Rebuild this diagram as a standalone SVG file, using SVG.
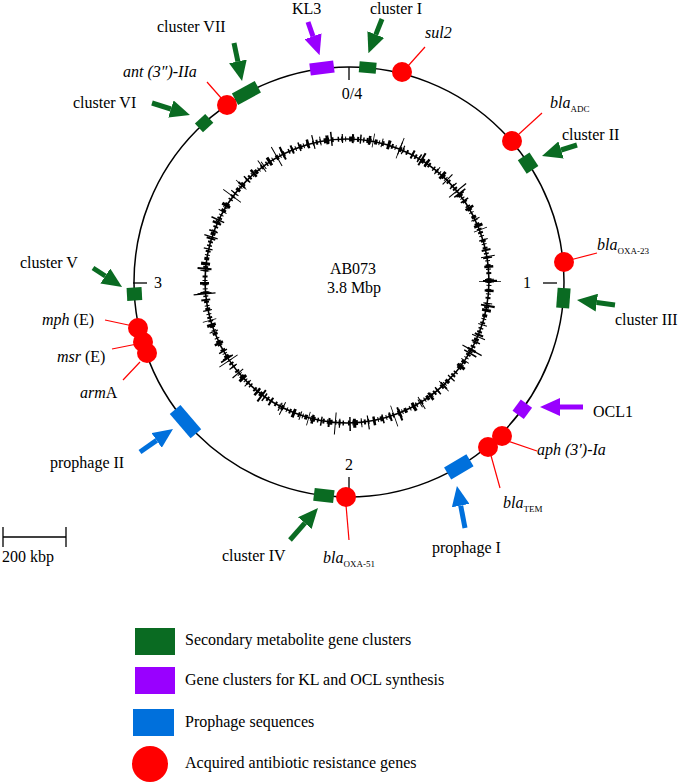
<svg xmlns="http://www.w3.org/2000/svg" width="678" height="783" viewBox="0 0 678 783">
<style>
text{font-family:"Liberation Serif","Times New Roman",serif;font-size:16px;fill:#000}
.i{font-style:italic}
.sub{font-size:9px;font-style:normal}
.g{fill:#0a6b22}
.p{fill:#9900ff}
.b{fill:#0070dc}
.r{fill:#ff0000}
.rl{stroke:#ff0000;stroke-width:1.2;fill:none}
.ag{stroke:#0a6b22;stroke-width:5;fill:none;marker-end:url(#mg)}
.ap{stroke:#9900ff;stroke-width:5;fill:none;marker-end:url(#mp)}
.ab{stroke:#0070dc;stroke-width:5;fill:none;marker-end:url(#mb)}
.tk{stroke:#000;stroke-width:1.3}
.sk{fill:none;stroke:#000}
</style>
<defs>
<marker id="mg" markerUnits="userSpaceOnUse" viewBox="0 0 20 18" markerWidth="20" markerHeight="18" refX="0" refY="9" orient="auto"><path d="M0,0 L20,9 L0,18 z" fill="#0a6b22"/></marker>
<marker id="mp" markerUnits="userSpaceOnUse" viewBox="0 0 20 18" markerWidth="20" markerHeight="18" refX="0" refY="9" orient="auto"><path d="M0,0 L20,9 L0,18 z" fill="#9900ff"/></marker>
<marker id="mb" markerUnits="userSpaceOnUse" viewBox="0 0 20 18" markerWidth="20" markerHeight="18" refX="0" refY="9" orient="auto"><path d="M0,0 L20,9 L0,18 z" fill="#0070dc"/></marker>
</defs>

<g id="genome">
<circle cx="349" cy="282" r="215" fill="none" stroke="#000" stroke-width="1.5"/>
<line class="tk" x1="349" y1="67" x2="349" y2="80"/>
<line class="tk" x1="543" y1="283" x2="557" y2="283"/>
<line class="tk" x1="349" y1="477" x2="349" y2="490"/>
<line class="tk" x1="133" y1="283" x2="147" y2="283"/>
<text x="352" y="99" text-anchor="middle">0/4</text>
<text x="527" y="288" text-anchor="middle">1</text>
<text x="349" y="470" text-anchor="middle">2</text>
<text x="158" y="288" text-anchor="middle">3</text>
</g>

<g id="gc-skew">
<circle class="sk" cx="347" cy="281" r="142" stroke-width="1.6"/>
<circle class="sk" cx="347" cy="281" r="142" stroke-width="5" stroke-dasharray="2 2 1 3 3 1.5 1 2.5 2 4 1.5 2"/>
<circle class="sk" cx="347" cy="281" r="142.5" stroke-width="9" stroke-dasharray="1.5 7 2.5 11 1 5 3 13 1.2 9 2 6"/>
<circle class="sk" cx="347" cy="281" r="143" stroke-width="14" stroke-dasharray="1 23 2 31 1.2 17 1.5 41 0.8 27"/>
<circle class="sk" cx="347" cy="281" r="143" stroke-width="22" stroke-dasharray="0.8 71 1.2 103 0.8 59 1 127"/>
<text x="353" y="274" text-anchor="middle">AB073</text>
<text x="354" y="293" text-anchor="middle">3.8 Mbp</text>
</g>

<g id="connectors">
<line class="ap" x1="308" y1="22" x2="313" y2="36.3"/>
<line class="ag" x1="382" y1="19" x2="375.8" y2="34.6"/>
<line class="ag" x1="234" y1="43" x2="237.9" y2="61.4"/>
<line class="ag" x1="152" y1="103" x2="170.9" y2="109"/>
<line class="ag" x1="577" y1="145" x2="561.1" y2="150"/>
<line class="ag" x1="615" y1="305" x2="596.8" y2="302.6"/>
<line class="ap" x1="583" y1="407" x2="560" y2="407"/>
<line class="ab" x1="465" y1="528" x2="460.7" y2="505.6"/>
<line class="ag" x1="290" y1="540" x2="304.8" y2="523.1"/>
<line class="ab" x1="140" y1="452" x2="156.6" y2="440.4"/>
<line class="ag" x1="93" y1="268" x2="105.3" y2="276"/>
<line class="rl" x1="408" y1="66" x2="425" y2="47"/>
<line class="rl" x1="207" y1="82" x2="222" y2="99"/>
<line class="rl" x1="519" y1="134" x2="542" y2="113"/>
<line class="rl" x1="570" y1="260" x2="597" y2="253"/>
<line class="rl" x1="508" y1="441" x2="537" y2="451"/>
<line class="rl" x1="490" y1="452" x2="500" y2="488"/>
<line class="rl" x1="346" y1="505" x2="349" y2="540"/>
<line class="rl" x1="105" y1="320" x2="133" y2="326"/>
<line class="rl" x1="112" y1="349" x2="137" y2="344"/>
<line class="rl" x1="123" y1="380" x2="140" y2="362"/>
</g>

<g id="KL3"><rect class="p" x="-12" y="-6" width="24" height="12" transform="translate(322,68) rotate(-7.2)"/><text x="292" y="14">KL3</text></g>
<g id="cluster-I"><rect class="g" x="-8.5" y="-5.5" width="17" height="11" transform="translate(367.7,67.5) rotate(5)"/><text x="370" y="14">cluster I</text></g>
<g id="sul2"><circle class="r" cx="402" cy="72" r="10"/><text class="i" x="425" y="38">sul2</text></g>
<g id="cluster-VII"><rect class="g" x="-13" y="-6.5" width="26" height="13" transform="translate(246.4,93) rotate(-28.5)"/><text x="157" y="32">cluster VII</text></g>
<g id="ant3IIa"><circle class="r" cx="227" cy="105" r="10"/><text class="i" x="123" y="77">ant (3″)-IIa</text></g>
<g id="cluster-VI"><rect class="g" x="-7" y="-6" width="14" height="12" transform="translate(204.1,123.1) rotate(-42.4)"/><text x="73" y="108">cluster VI</text></g>
<g id="blaADC"><circle class="r" cx="512" cy="141" r="10"/><text x="550" y="108"><tspan class="i">bla</tspan><tspan class="sub" dy="4">ADC</tspan></text></g>
<g id="cluster-II"><rect class="g" x="-8" y="-7" width="16" height="14" transform="translate(528.1,163.1) rotate(56.4)"/><text x="562" y="140">cluster II</text></g>
<g id="blaOXA23"><circle class="r" cx="564" cy="262" r="10"/><text x="597" y="250"><tspan class="i">bla</tspan><tspan class="sub" dy="4">OXA-23</tspan></text></g>
<g id="cluster-III"><rect class="g" x="-10" y="-6.5" width="20" height="13" transform="translate(563.4,298.1) rotate(94.3)"/><text x="615" y="325">cluster III</text></g>
<g id="OCL1"><rect class="p" x="-7" y="-7" width="14" height="14" transform="translate(522.3,409.3) rotate(126.3)"/><text x="593" y="417">OCL1</text></g>
<g id="aph3Ia"><circle class="r" cx="502" cy="436" r="10"/><text class="i" x="537" y="455">aph (3′)-Ia</text></g>
<g id="blaTEM"><circle class="r" cx="488" cy="447" r="10"/><text x="503" y="508"><tspan class="i">bla</tspan><tspan class="sub" dy="4">TEM</tspan></text></g>
<g id="prophage-I"><rect class="b" x="-13" y="-7" width="26" height="14" transform="translate(458.8,466.9) rotate(149.3)"/><text x="432" y="553">prophage I</text></g>
<g id="blaOXA51"><circle class="r" cx="346" cy="497" r="10"/><text x="323" y="563"><tspan class="i">bla</tspan><tspan class="sub" dy="4">OXA-51</tspan></text></g>
<g id="cluster-IV"><rect class="g" x="-10" y="-6.5" width="20" height="13" transform="translate(323.9,495.5) rotate(186.7)"/><text x="222" y="561">cluster IV</text></g>
<g id="prophage-II"><rect class="b" x="-16" y="-7" width="32" height="14" transform="translate(185.5,421.6) rotate(229.5)"/><text x="50" y="468">prophage II</text></g>
<g id="cluster-V"><rect class="g" x="-6.5" y="-7.5" width="13" height="15" transform="translate(134.4,294) rotate(266.8)"/><text x="20" y="268">cluster V</text></g>
<g id="mphE"><circle class="r" cx="138" cy="328" r="10"/><text x="42" y="325"><tspan class="i">mph</tspan> (E)</text></g>
<g id="msrE"><circle class="r" cx="143" cy="342" r="10"/><text x="57" y="362"><tspan class="i">msr</tspan> (E)</text></g>
<g id="armA"><circle class="r" cx="147" cy="353" r="10"/><text x="80" y="398"><tspan class="i">arm</tspan>A</text></g>

<g id="scale">
<line x1="3" y1="537" x2="66" y2="537" stroke="#000" stroke-width="1.3"/>
<line x1="3" y1="527" x2="3" y2="547" stroke="#000" stroke-width="1.3"/>
<line x1="66" y1="527" x2="66" y2="547" stroke="#000" stroke-width="1.3"/>
<text x="2" y="562">200 kbp</text>
</g>

<g id="legend">
<rect class="g" x="135" y="628" width="40" height="27"/><text x="185" y="645">Secondary metabolite gene clusters</text>
<rect class="p" x="135" y="667" width="40" height="27"/><text x="185" y="685">Gene clusters for KL and OCL synthesis</text>
<rect class="b" x="133" y="709" width="41" height="27"/><text x="185" y="727">Prophage sequences</text>
<circle class="r" cx="150" cy="764" r="18"/><text x="185" y="768">Acquired antibiotic resistance genes</text>
</g>
</svg>
